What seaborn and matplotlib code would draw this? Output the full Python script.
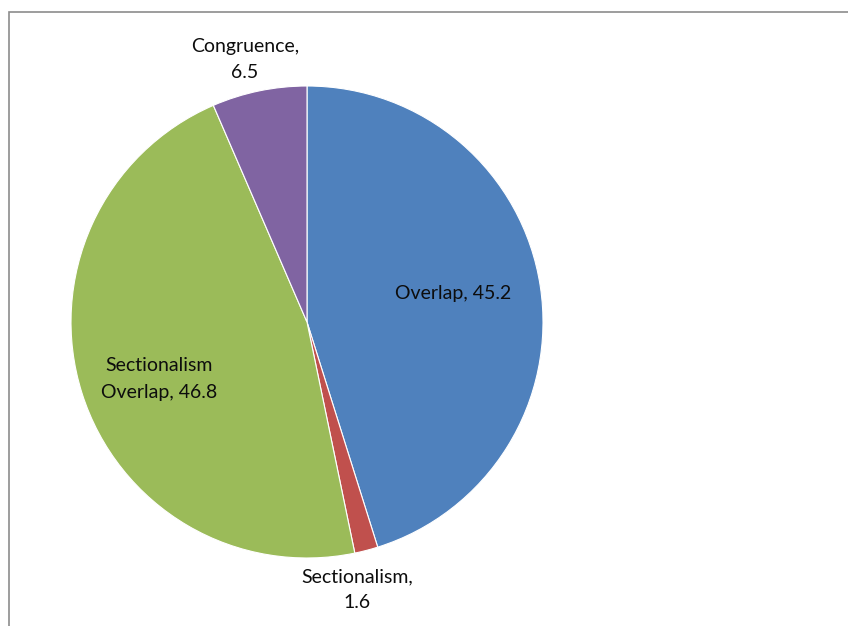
import numpy as np
import matplotlib
matplotlib.use("Agg")
import matplotlib.pyplot as plt
import matplotlib.patches as mpatches
import seaborn as sns

categories = ["Overlap", "Sectionalism", "Sectionalism\nOverlap", "Congruence"]
values = [45.2, 1.6, 46.8, 6.5]
label_texts = ["Overlap, 45.2", "Sectionalism,\n1.6", "Sectionalism\nOverlap, 46.8", "Congruence,\n6.5"]
label_radius = [0.63, 1.153, 0.67, 1.144]
label_angle_nudge = [2.3, -4.0, 3.6, 1.6]

sns.set_theme(style="white")
plt.rcParams["font.family"] = ["Lato", "DejaVu Sans"]
colors = sns.color_palette(["#4F81BD", "#C0504D", "#9BBB59", "#8064A2"])

W, H = 848, 626
fig = plt.figure(figsize=(W / 100, H / 100), dpi=100)
fig.patch.set_facecolor("white")

# outer frame
frame = mpatches.Rectangle((9 / W, -0.05), 1.2, 1 - 12 / H + 0.05,
                           transform=fig.transFigure, fill=False,
                           edgecolor="#8c8c8c", linewidth=1.2, zorder=0)
fig.patches.append(frame)

cx, cy, r = 307, 322, 236
ax = fig.add_axes([(cx - r) / W, (H - cy - r) / H, 2 * r / W, 2 * r / H])
wedges, _ = ax.pie(values, colors=colors, startangle=90, counterclock=False,
                   radius=1.0, wedgeprops=dict(edgecolor="white", linewidth=0.8))
ax.set_xlim(-1, 1)
ax.set_ylim(-1, 1)
ax.set_aspect("equal")
ax.axis("off")

for w, txt, rad, nudge in zip(wedges, label_texts, label_radius, label_angle_nudge):
    ang = np.deg2rad((w.theta1 + w.theta2) / 2 + nudge)
    ax.text(rad * np.cos(ang), rad * np.sin(ang), txt, ha="center", va="center",
            fontsize=14, color="#0d0d0d", linespacing=1.65, clip_on=False)

fig.savefig("out.png", dpi=100, facecolor="white")
